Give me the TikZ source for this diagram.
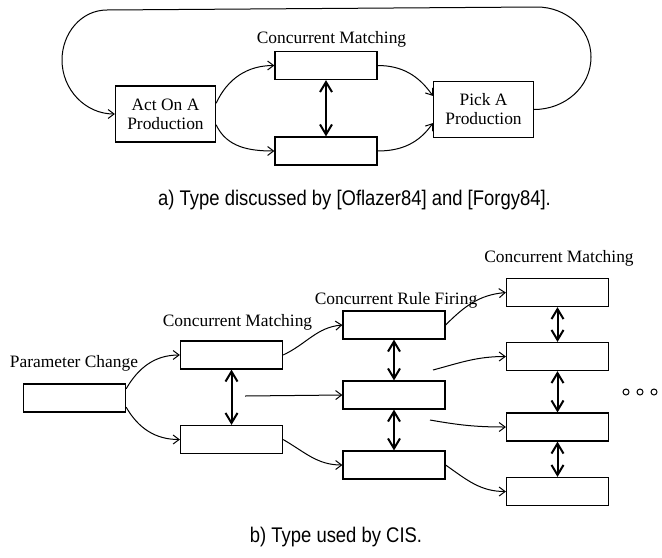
\documentclass[tikz,border=0pt]{standalone}
\usepackage{fontspec}
\setmainfont{Liberation Serif}
\newfontfamily\capfont[FakeStretch=0.87]{Liberation Sans}
\usetikzlibrary{arrows.meta}

\begin{document}
\begin{tikzpicture}[
  x=0.5pt, y=0.5pt,
  font=\fontsize{8.7}{9.5}\selectfont,
  box/.style={draw,rectangle,line width=0.6pt,minimum width=51pt,minimum height=14pt,inner sep=0pt,align=center},
  bigbox/.style={box,minimum width=50pt,minimum height=28pt},
  caption/.style={font=\capfont\fontsize{10.6}{12}\selectfont},
  flow/.style={-{Straight Barb[length=3pt,width=4.5pt]},line width=0.5pt},
  link/.style={{Straight Barb[length=5pt,width=6pt]}-{Straight Barb[length=5pt,width=6pt]},line width=1pt},
  dotmark/.style={draw,circle,inner sep=0pt,minimum size=3pt,line width=0.5pt}
]
\useasboundingbox (0,0) rectangle (662,-557);

% a) Nodes
\node[bigbox] (act) at (165.5,-114) {Act On A\\Production};
\node[box] (cmA) at (326,-65.5) {};
\node[box] (cmB) at (326,-151) {};
\node[bigbox] (pick) at (483.5,-109.5) {Pick A\\Production};
\node (lblA) at (331.5,-39) {Concurrent Matching};
\node[caption] (capA) at (354.5,-200) {a) Type discussed by [Oflazer84] and [Forgy84].};

\coordinate (loopR) at (591,-57);
\coordinate (loopRT) at (537,-7);
\coordinate (loopLT) at (107,-10);
\coordinate (loopL) at (62,-60);

% a) Connections
\draw[flow] (act.12) to[out=65,in=180] (cmA.west);
\draw[flow] (act.-12) to[out=-65,in=180] (cmB.west);
\draw[link] (cmA.south) -- (cmB.north);
\draw[flow] (cmA.east) to[out=0,in=125] (pick.165);
\draw[flow] (cmB.east) to[out=0,in=235] (pick.195);
\draw[flow] (pick.east) to[out=0,in=270] (loopR) to[out=90,in=0] (loopRT)
  -- (loopLT) to[out=180,in=90] (loopL) to[out=270,in=180] (act.west);

% b) Nodes
\node[box] (param) at (74.5,-398) {};
\node (lblP) at (74,-363) {Parameter Change};
\node[box] (cm1) at (231.5,-355) {};
\node[box] (cm2) at (231.5,-439.5) {};
\node (lblC) at (237.5,-322) {Concurrent Matching};
\node[box] (rf1) at (394,-325) {};
\node[box] (rf2) at (394,-395) {};
\node[box] (rf3) at (394,-465) {};
\node (lblR) at (396,-300) {Concurrent Rule Firing};
\node[box] (cr1) at (557.5,-292.5) {};
\node[box] (cr2) at (557.5,-356.5) {};
\node[box] (cr3) at (557.5,-427) {};
\node[box] (cr4) at (557.5,-491.5) {};
\node (lblM) at (559,-258) {Concurrent Matching};
\foreach \i in {0,1,2}
  \node[dotmark] (dot\i) at ({626+14*\i},-392) {};
\node[caption] (capB) at (336,-537) {b) Type used by CIS.};

\coordinate (fr1) at (245,-396);
\coordinate (fr2) at (433,-370);
\coordinate (fr3) at (430,-420);

% b) Connections
\draw[flow] (param.10) to[out=60,in=180] (cm1.west);
\draw[flow] (param.-10) to[out=-60,in=180] (cm2.west);
\draw[link] (cm1.south) -- (cm2.north);
\draw[flow] (cm1.east) to[out=25,in=185] (rf1.west);
\draw[flow] (fr1) -- (rf2.west);
\draw[flow] (cm2.east) to[out=-30,in=180] (rf3.west);
\draw[link] (rf1.south) -- (rf2.north);
\draw[link] (rf2.south) -- (rf3.north);
\draw[flow] (rf1.east) to[out=45,in=185] (cr1.west);
\draw[flow] (fr2) to[out=15,in=180] (cr2.west);
\draw[flow] (fr3) to[out=-10,in=180] (cr3.west);
\draw[flow] (rf3.east) to[out=-35,in=180] (cr4.west);
\draw[link] (cr1.south) -- (cr2.north);
\draw[link] (cr2.south) -- (cr3.north);
\draw[link] (cr3.south) -- (cr4.north);

\end{tikzpicture}
\end{document}
